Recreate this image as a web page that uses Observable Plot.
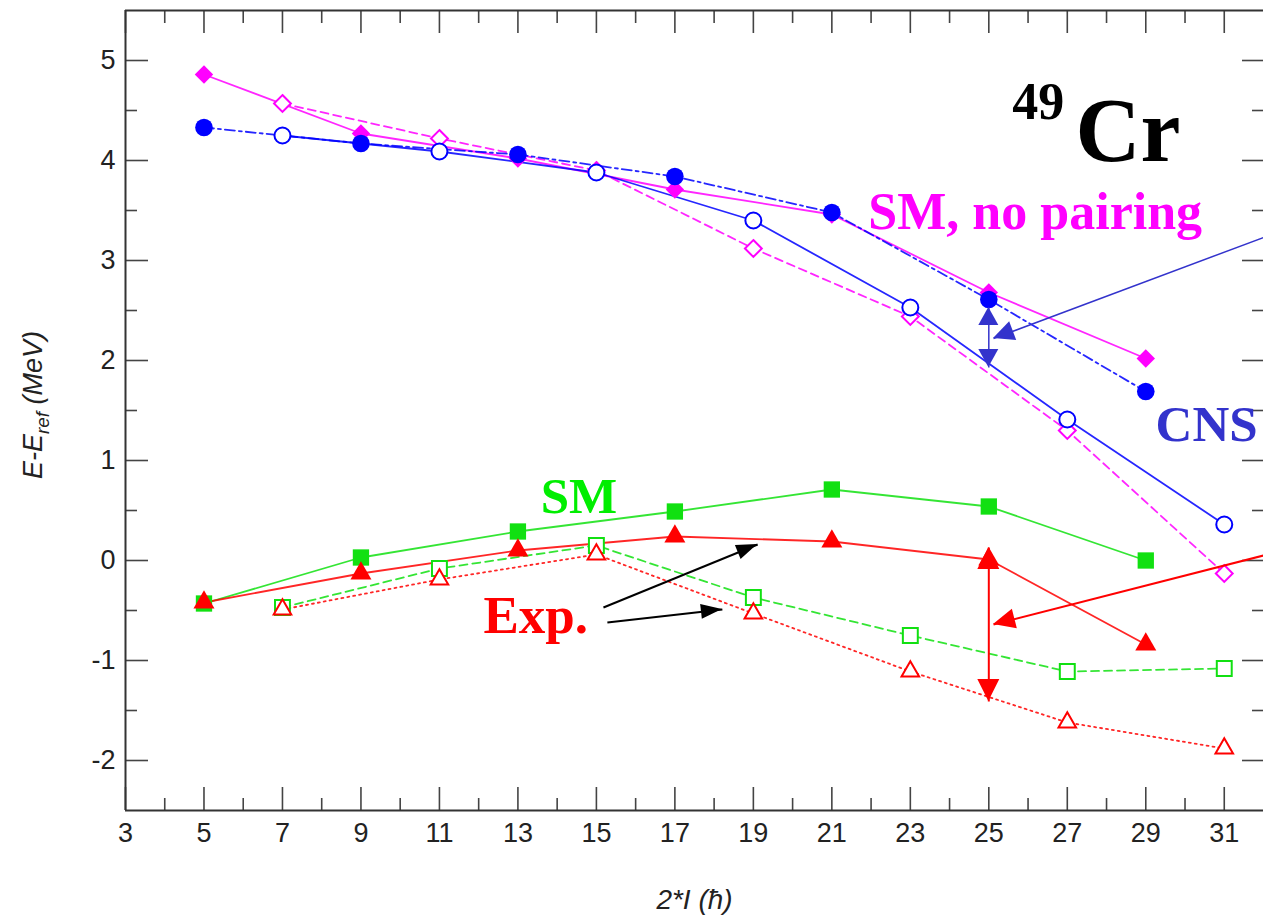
<!DOCTYPE html>
<html>
<head>
<meta charset="utf-8">
<script src="https://cdn.jsdelivr.net/npm/d3@7"></script>
<script src="https://cdn.jsdelivr.net/npm/@observablehq/plot@0.6"></script>
<style>
  html, body { margin: 0; padding: 0; background: #fff; overflow: hidden; }
  #chart svg { display: block; }
</style>
</head>
<body>
<div id="chart"></div>
<script>
// ---------- data ----------
const spinOdd  = [5, 9, 13, 17, 21, 25, 29];   // 2*I for filled symbols
const spinEven = [7, 11, 15, 19, 23, 27, 31];  // 2*I for open symbols

const smNoPairOdd  = [4.86, 4.27, 4.02, 3.71, 3.46, 2.68, 2.02];
const smNoPairEven = [4.57, 4.22, 3.90, 3.12, 2.44, 1.30, -0.13];
const cnsOdd       = [4.33, 4.17, 4.06, 3.84, 3.48, 2.61, 1.69];
const cnsEven      = [4.25, 4.09, 3.88, 3.40, 2.53, 1.41, 0.36];
const smOdd        = [-0.43, 0.03, 0.29, 0.49, 0.71, 0.54, 0.00];
const smEven       = [-0.47, -0.08, 0.15, -0.37, -0.75, -1.11, -1.08];
const expOdd       = [-0.42, -0.13, 0.10, 0.24, 0.19, 0.01, -0.84];
const expEven      = [-0.49, -0.19, 0.06, -0.53, -1.11, -1.62, -1.88];

const xTickLabels = [3, 5, 7, 9, 11, 13, 15, 17, 19, 21, 23, 25, 27, 29, 31];
const xMinorTicks = [4, 6, 8, 10, 12, 14, 16, 18, 20, 22, 24, 26, 28, 30];
const yTickLabels = [-2, -1, 0, 1, 2, 3, 4, 5];
const yMinorTicks = [-1.5, -0.5, 0.5, 1.5, 2.5, 3.5, 4.5];

// annotation labels (data coordinates, baseline-left anchored)
const labelText = ["SM, no pairing", "CNS", "SM", "Exp.", "Cr", "49"];
const labelX    = [21.93, 29.25, 13.58, 12.12, 27.21, 25.6];
const labelY    = [3.32, 1.20, 0.48, -0.72, 4.00, 4.42];

// annotation arrows (data coordinates)
const arrowFromX = [32, 25, 32, 25, 15.18, 15.28];
const arrowFromY = [3.23, 2.53, 0.05, 0.13, -0.47, -0.62];
const arrowToX   = [25.12, 25, 25.12, 25, 19.11, 18.21];
const arrowToY   = [2.22, 1.93, -0.64, -1.41, 0.16, -0.49];
const arrowBoth  = [false, true, false, true, false, false];

// ---------- layout / style ----------
const W = 1263, H = 918;
const mL = 125, mT = 10, mR = 0, mB = 108;
const fw = W - mL - mR, fh = H - mT - mB;

const MAG = "#ff00ff", BLUE = "#0000ff", GREEN = "#11e011", RED = "#ff0000";
const BLUE_TXT = "#3333cc";
const sans = "'Liberation Sans', Arial, Helvetica, sans-serif";
const serif = "'Liberation Serif', 'Times New Roman', serif";

const series = [
  {x: spinEven, y: smNoPairEven, color: MAG,   dash: "8,5",       symbol: "diamond2", open: true,  r: 7.6},
  {x: spinOdd,  y: smNoPairOdd,  color: MAG,   dash: null,        symbol: "diamond2", open: false, r: 8.3},
  {x: spinEven, y: cnsEven,      color: BLUE,  dash: null,        symbol: "circle",   open: true,  r: 8},
  {x: spinOdd,  y: cnsOdd,       color: BLUE,  dash: "10,4,3,4",  symbol: "circle",   open: false, r: 8.8},
  {x: spinEven, y: smEven,       color: GREEN, dash: "8,5",       symbol: "square2",  open: true,  r: 9.5},
  {x: spinOdd,  y: smOdd,        color: GREEN, dash: null,        symbol: "square",   open: false, r: 9.2},
  {x: spinEven, y: expEven,      color: RED,   dash: "2,4",       symbol: "triangle2",open: true,  r: 8.4},
  {x: spinOdd,  y: expOdd,       color: RED,   dash: null,        symbol: "triangle", open: false, r: 7.8}
];

const labelStyle = [
  {fill: MAG,      size: 52},
  {fill: BLUE_TXT, size: 51},
  {fill: "#00ee00",size: 51},
  {fill: RED,      size: 53},
  {fill: "#000",   size: 90},
  {fill: "#000",   size: 52}
];
const arrowStyle = [
  {stroke: BLUE_TXT, w: 1.5, len: 21, wid: 20},
  {stroke: BLUE_TXT, w: 1.5, len: 18, wid: 20},
  {stroke: RED,      w: 2,   len: 22, wid: 20},
  {stroke: RED,      w: 2,   len: 22, wid: 22},
  {stroke: "#000",   w: 2,   len: 21, wid: 15},
  {stroke: "#000",   w: 2,   len: 21, wid: 15}
];

const marks = [];

// frame lines (left, bottom, top) and inward ticks
const axisColor = "#333", tickColor = "#444";
marks.push(Plot.ruleX(xTickLabels, {insetTop: fh - 23, stroke: tickColor, strokeWidth: 1.6}));
marks.push(Plot.ruleX(xMinorTicks, {insetTop: fh - 12, stroke: tickColor, strokeWidth: 1.6}));
marks.push(Plot.ruleX(xTickLabels, {insetBottom: fh - 23, stroke: tickColor, strokeWidth: 1.6}));
marks.push(Plot.ruleX(xMinorTicks, {insetBottom: fh - 13, stroke: tickColor, strokeWidth: 1.6}));
marks.push(Plot.ruleY(yTickLabels, {insetRight: fw - 23, stroke: tickColor, strokeWidth: 1.6}));
marks.push(Plot.ruleY(yMinorTicks, {insetRight: fw - 12, stroke: tickColor, strokeWidth: 1.6}));
marks.push(Plot.ruleY(yTickLabels, {insetLeft: fw - 21, stroke: tickColor, strokeWidth: 1.6}));
marks.push(Plot.ruleY(yMinorTicks, {insetLeft: fw - 11, stroke: tickColor, strokeWidth: 1.6}));
marks.push(Plot.ruleX([3], {stroke: axisColor, strokeWidth: 2}));
marks.push(Plot.ruleY([-2.5], {stroke: axisColor, strokeWidth: 2}));
marks.push(Plot.ruleY([5.5], {stroke: axisColor, strokeWidth: 2}));

// tick labels
marks.push(Plot.axisX(xTickLabels, {tickSize: 0, tickPadding: 12, fontSize: 27, fill: "#222", label: null, tickFormat: d => String(d), fontFamily: sans}));
marks.push(Plot.axisY(yTickLabels, {tickSize: 0, tickPadding: 10, fontSize: 27, fill: "#222", label: null, tickFormat: d => String(d), fontFamily: sans}));

// axis titles
marks.push(Plot.text(["2*I (\u0127)"], {frameAnchor: "bottom", dy: 98, lineAnchor: "bottom", fontSize: 28, fontStyle: "italic", fill: "#222", fontFamily: sans}));
marks.push((index, scales, values, dims) => {
  const cy = dims.marginTop + (dims.height - dims.marginTop - dims.marginBottom) / 2 - 5;
  const t = d3.create("svg:text")
    .attr("transform", `translate(42,${cy}) rotate(-90)`)
    .attr("text-anchor", "middle")
    .attr("font-family", sans)
    .attr("font-style", "italic")
    .attr("font-size", 27)
    .attr("fill", "#222");
  t.append("tspan").text("E-E");
  t.append("tspan").attr("font-size", 19).attr("dy", 7).text("ref");
  t.append("tspan").attr("dy", -7).text(" (MeV)");
  return t.node();
});

// series lines
for (const s of series) {
  marks.push(Plot.line(s.y, {x: s.x, y: s.y, stroke: s.color, strokeWidth: 1.8, strokeDasharray: s.dash, strokeOpacity: 0.85}));
}
// series markers
for (const s of series) {
  marks.push(Plot.dot(s.y, {
    x: s.x, y: s.y, symbol: s.symbol, r: s.r,
    fill: s.open ? "white" : s.color,
    stroke: s.open ? s.color : "none",
    strokeWidth: s.open ? 2 : 0
  }));
}

// arrow shafts
arrowFromX.forEach((_, i) => {
  marks.push(Plot.link([i], {
    x1: [arrowFromX[i]], y1: [arrowFromY[i]], x2: [arrowToX[i]], y2: [arrowToY[i]],
    stroke: arrowStyle[i].stroke, strokeWidth: arrowStyle[i].w
  }));
});
// arrow heads (filled), positioned through the plot scales
marks.push((index, {x, y}) => {
  const g = d3.create("svg:g");
  arrowFromX.forEach((_, i) => {
    const sx = x(arrowFromX[i]), sy = y(arrowFromY[i]);
    const tx = x(arrowToX[i]), ty = y(arrowToY[i]);
    const heads = arrowBoth[i] ? [[sx, sy, tx, ty], [tx, ty, sx, sy]] : [[sx, sy, tx, ty]];
    const {len, wid, stroke} = arrowStyle[i];
    for (const [ax, ay, bx, by] of heads) {
      const a = Math.atan2(by - ay, bx - ax);
      const cx = bx - len * Math.cos(a), cy = by - len * Math.sin(a);
      const px = -Math.sin(a) * wid / 2, py = Math.cos(a) * wid / 2;
      g.append("path")
        .attr("d", `M${bx},${by}L${cx + px},${cy + py}L${cx - px},${cy - py}Z`)
        .attr("fill", stroke);
    }
  });
  return g.node();
});

// annotation labels
labelText.forEach((t, i) => {
  marks.push(Plot.text([t], {
    x: [labelX[i]], y: [labelY[i]], text: d => d,
    textAnchor: "start", lineAnchor: "bottom",
    fontSize: labelStyle[i].size, fontWeight: "bold", fontFamily: serif,
    fill: labelStyle[i].fill
  }));
});

const chart = Plot.plot({
  width: W, height: H,
  marginLeft: mL, marginTop: mT, marginRight: mR, marginBottom: mB,
  x: {domain: [3, 32]},
  y: {domain: [-2.5, 5.5]},
  style: {background: "#fff", fontFamily: sans, overflow: "visible"},
  marks
});
document.getElementById("chart").appendChild(chart);
</script>
</body>
</html>
